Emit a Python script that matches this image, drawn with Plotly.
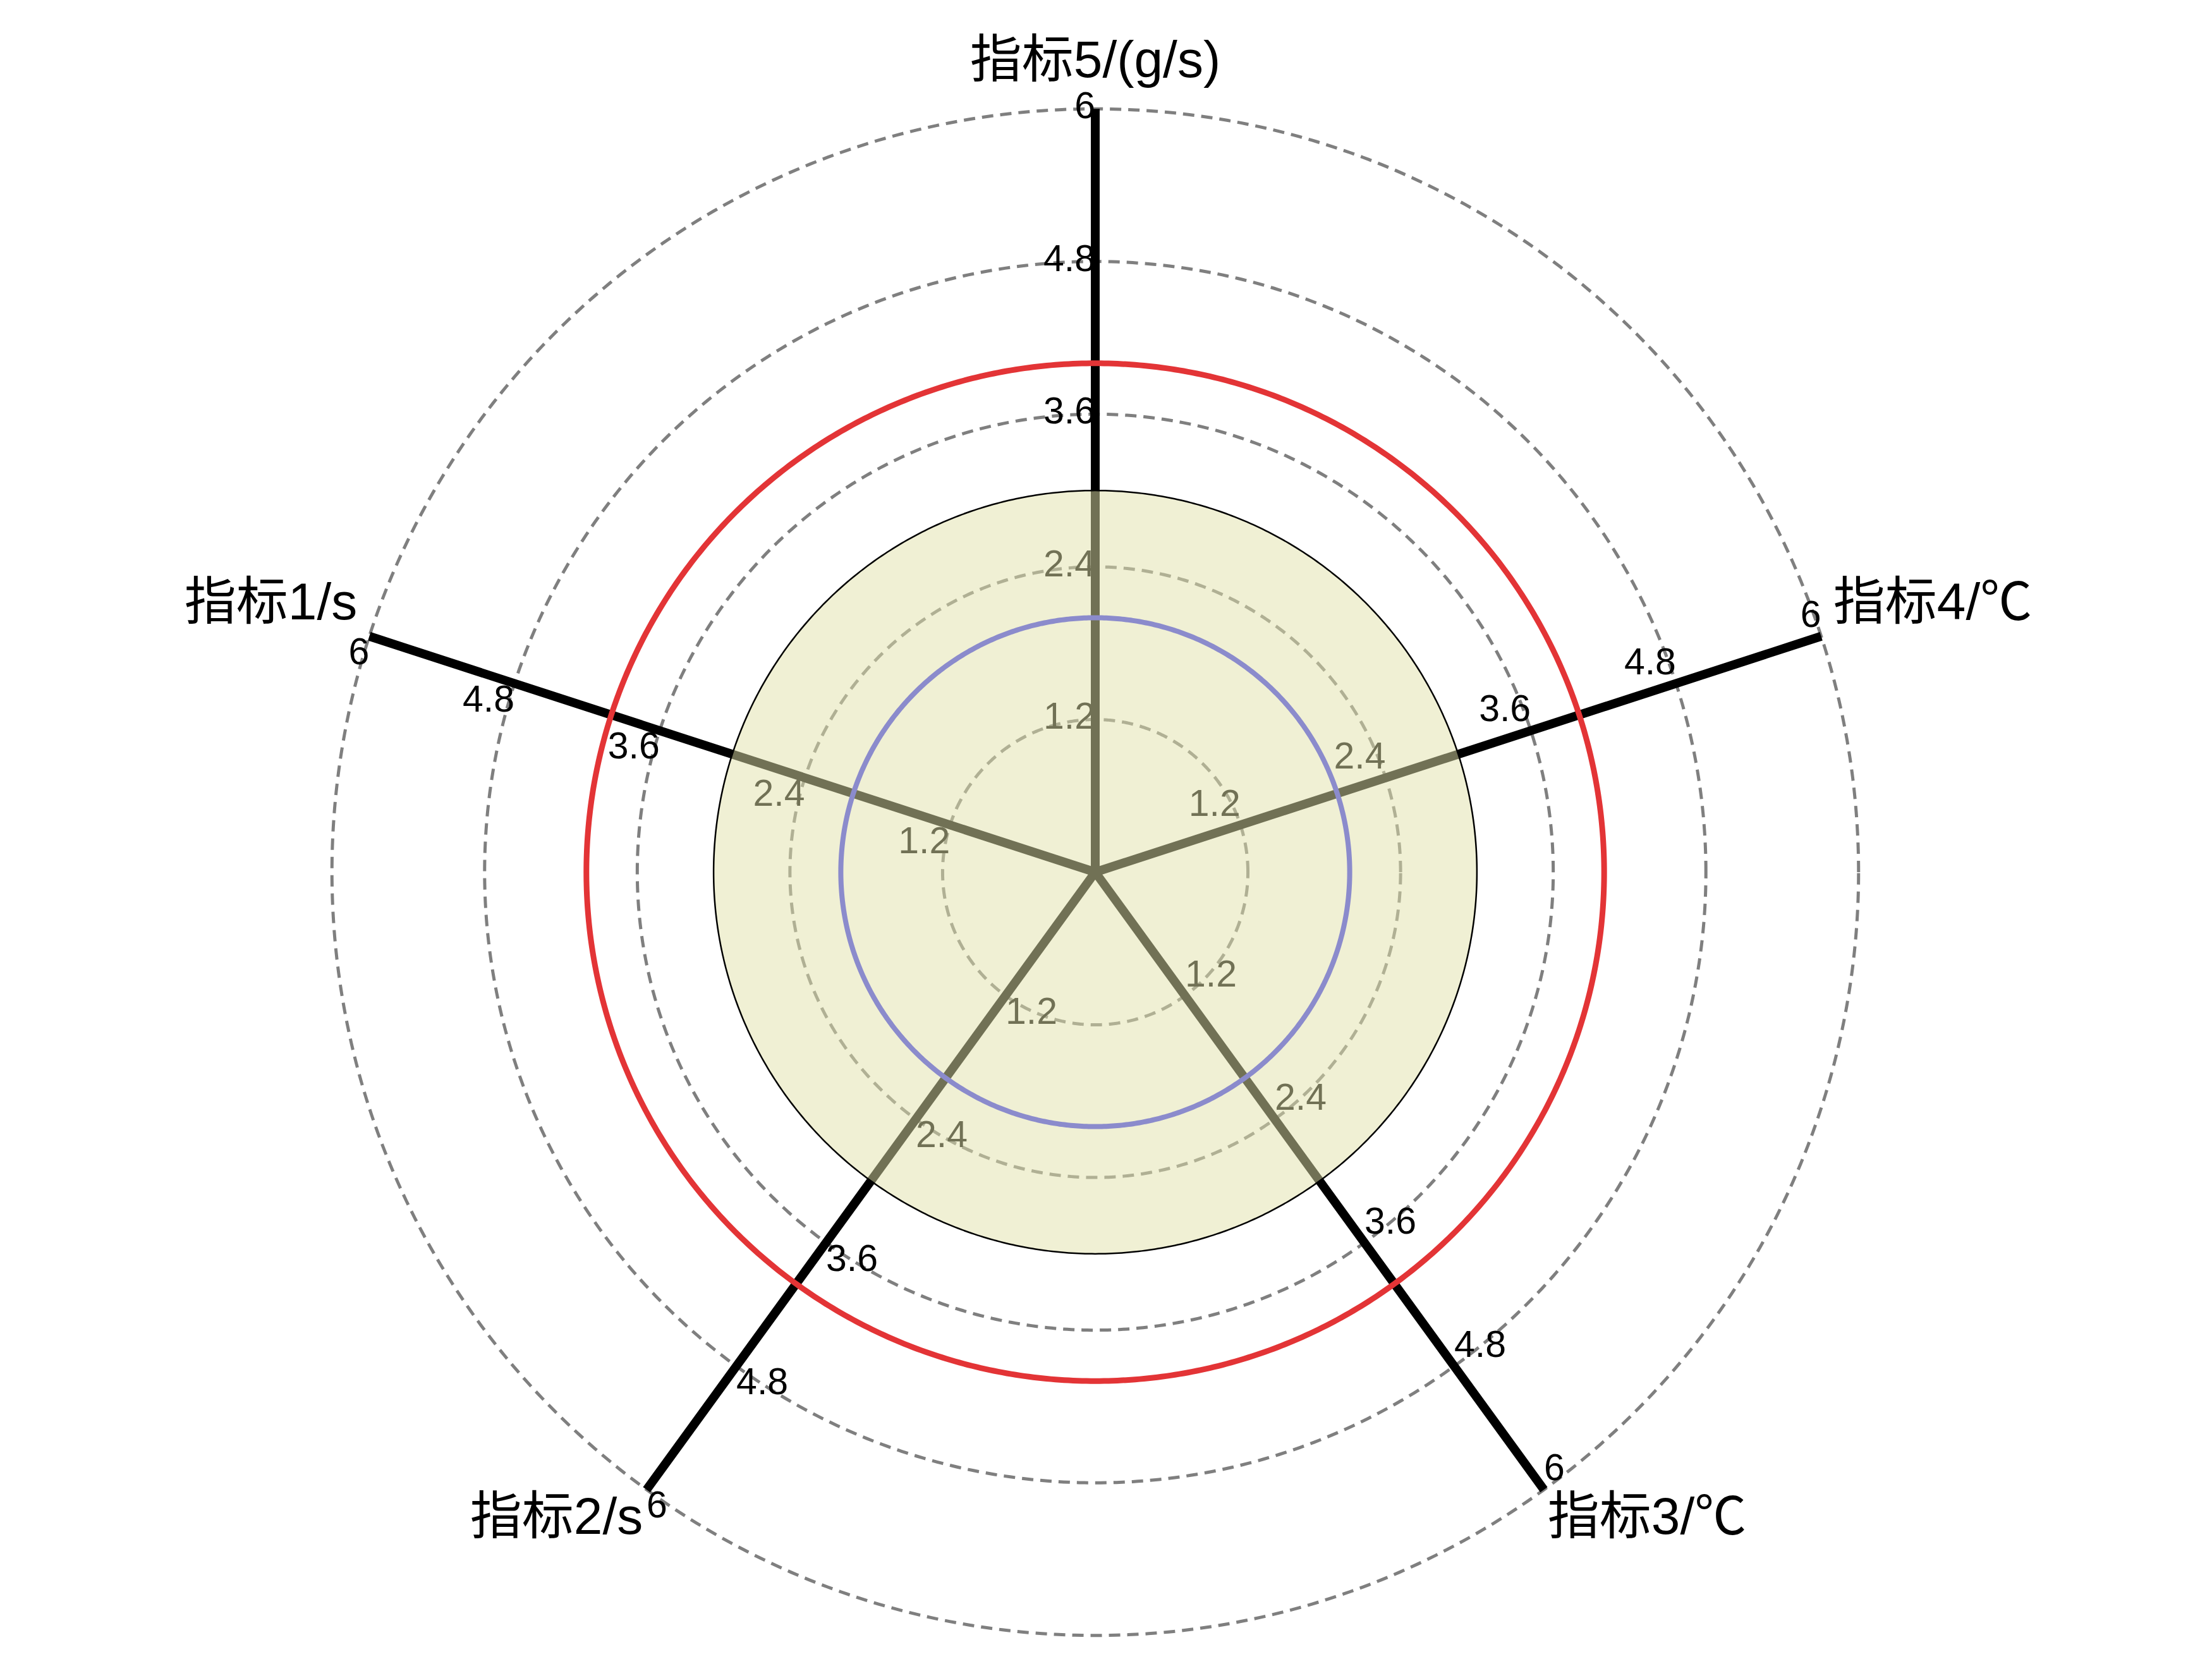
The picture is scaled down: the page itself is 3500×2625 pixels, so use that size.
import numpy as np
import plotly.graph_objects as go

# radar axes, counter-clockwise starting at the upper left
categories = ["指标1/s", "指标2/s", "指标3/℃", "指标4/℃", "指标5/(g/s)"]
tick_vals = [1.2, 2.4, 3.6, 4.8, 6]
tick_text = ["1.2", "2.4", "3.6", "4.8", "6"]
r_max = 6

# the three reference rings (same value on every axis)
inner_value = 2.0   # blue ring
band_value = 3.0    # shaded disc
outer_value = 4.0   # red ring

start_angle = 162
step = 360 / len(categories)
angles = [(start_angle + step * i) % 360 for i in range(len(categories))]

tick_pos = ["bottom left", "bottom right", "top right", "top left", "middle left"]
label_pos = ["top left", "bottom left", "bottom right", "top right", "top center"]
label_r = [6.1, 6.05, 6.05, 6.1, 6.15]

circle_t = np.linspace(0, 360, 721)
font_fam = "Liberation Sans, Arial, Noto Sans CJK SC"

fig = go.Figure()

# dashed grid rings
for v in tick_vals:
    fig.add_trace(go.Scatterpolar(
        r=[v] * len(circle_t), theta=circle_t, mode="lines",
        line=dict(color="#7f7f7f", width=5, dash="18px,11px"),
        cliponaxis=False, hoverinfo="skip", showlegend=False))

# axis spokes
for a in angles:
    fig.add_trace(go.Scatterpolar(
        r=[0, r_max], theta=[a, a], mode="lines",
        line=dict(color="black", width=14),
        cliponaxis=False, hoverinfo="skip", showlegend=False))

# tick labels along each spoke
for a, pos in zip(angles, tick_pos):
    fig.add_trace(go.Scatterpolar(
        r=tick_vals, theta=[a] * len(tick_vals), mode="text",
        text=tick_text, textposition=pos,
        textfont=dict(family=font_fam, size=59, color="black"),
        cliponaxis=False, hoverinfo="skip", showlegend=False))

# axis names
for a, name, pos, rr in zip(angles, categories, label_pos, label_r):
    fig.add_trace(go.Scatterpolar(
        r=[rr], theta=[a], mode="text", text=[name], textposition=pos,
        textfont=dict(family=font_fam, size=82, color="black"),
        cliponaxis=False, hoverinfo="skip", showlegend=False))

# shaded disc on top of spokes
fig.add_trace(go.Scatterpolar(
    r=[band_value] * len(circle_t), theta=circle_t, mode="lines",
    fill="toself", fillcolor="rgba(226,226,170,0.5)",
    line=dict(color="black", width=2.5),
    cliponaxis=False, hoverinfo="skip", showlegend=False))

fig.add_trace(go.Scatterpolar(
    r=[inner_value] * len(circle_t), theta=circle_t, mode="lines",
    line=dict(color="#8b8bcc", width=8),
    cliponaxis=False, hoverinfo="skip", showlegend=False))

fig.add_trace(go.Scatterpolar(
    r=[outer_value] * len(circle_t), theta=circle_t, mode="lines",
    line=dict(color="#e33436", width=9),
    cliponaxis=False, hoverinfo="skip", showlegend=False))

fig.update_layout(
    width=3500, height=2625,
    margin=dict(l=481, r=531, t=128, b=9),
    paper_bgcolor="white",
    showlegend=False,
    polar=dict(
        bgcolor="white",
        radialaxis=dict(visible=False, range=[0, 6.18]),
        angularaxis=dict(visible=False, rotation=0, direction="counterclockwise"),
    ),
)

fig.write_html("out.html")
